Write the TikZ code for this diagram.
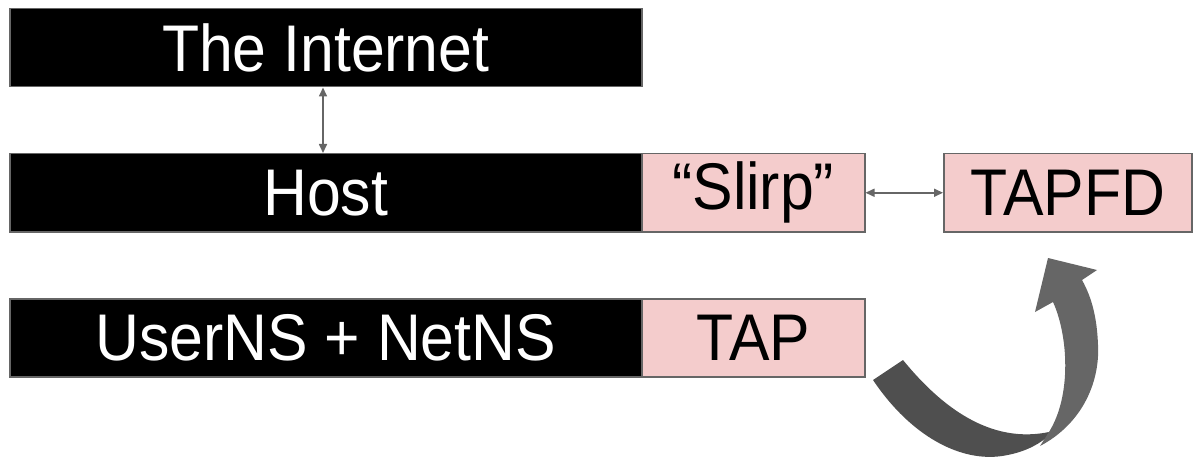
\documentclass[tikz,border=0pt]{standalone}
\usepackage{fontspec}
\setmainfont{Liberation Sans}[FakeStretch=0.92]
\usetikzlibrary{arrows.meta}
\definecolor{edgegray}{HTML}{666666}
\definecolor{pinkfill}{HTML}{F4CCCC}
\definecolor{arrowdark}{HTML}{4F4F4F}
\definecolor{arrowlight}{HTML}{666666}
\tikzset{
  box/.style={draw=edgegray, line width=1.5pt, rectangle, inner sep=0pt,
    minimum height=78pt, anchor=north west,
    font=\fontsize{66}{70}\selectfont},
  blackbox/.style={box, fill=black, text=white},
  pinkbox/.style={box, fill=pinkfill, text=black},
  link/.style={draw=edgegray, line width=1.6pt,
    {Triangle[width=8pt,length=9pt]}-{Triangle[width=8pt,length=9pt]}},
}
\begin{document}
\begin{tikzpicture}[x=1pt,y=-1pt]
\useasboundingbox (0,0) rectangle (1193,457);

% layered boxes
\node[blackbox, minimum width=632pt] (inet) at (9,8) {The Internet};
\node[blackbox, minimum width=632pt] (host) at (9,153) {Host};
\node[pinkbox, minimum width=223pt] (slirp) at (641,153) {“Slirp”};
\node[pinkbox, minimum width=248pt] (tapfd) at (943,153) {TAPFD};
\node[blackbox, minimum width=632pt] (ns) at (9,298) {UserNS + NetNS};
\node[pinkbox, minimum width=223pt] (tap) at (641,298) {TAP};

% connectors
\draw[link] (inet.south -| 323,0) -- (host.north -| 323,0);
\draw[link] (slirp.east) -- (tapfd.west);

% curved block arrow from TAP up to TAPFD
\fill[arrowdark] (873,380) .. controls (912,438) and (962,462) .. (1002,456)
  .. controls (1022,453) and (1036,446) .. (1046,438)
  -- (1049,432)
  .. controls (1010,440) and (960,430) .. (903,360) -- cycle;
\fill[arrowlight] (1040,446)
  .. controls (1080,425) and (1100,385) .. (1098,345)
  .. controls (1097,318) and (1092,298) .. (1082,280)
  -- (1097,270) -- (1048,258) -- (1035,312) -- (1053,302)
  .. controls (1068,335) and (1072,395) .. (1049,432) -- cycle;
\end{tikzpicture}
\end{document}
